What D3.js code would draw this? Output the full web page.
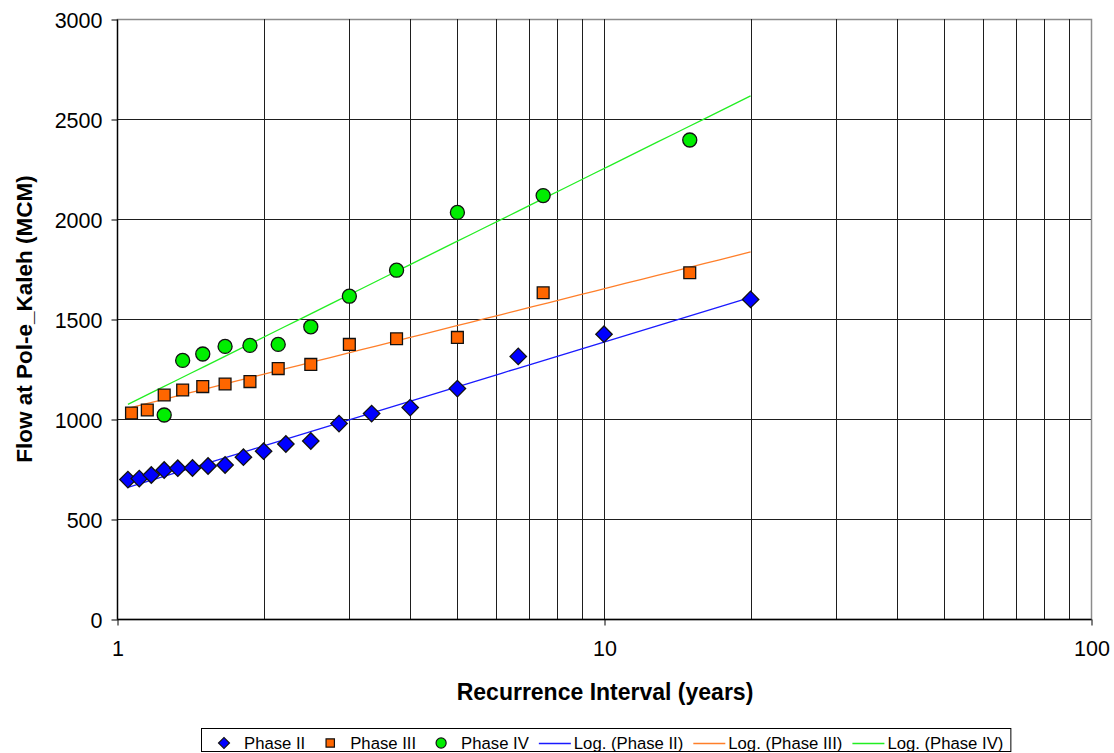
<!DOCTYPE html>
<html>
<head>
<meta charset="utf-8">
<script src="https://cdn.jsdelivr.net/npm/d3@7"></script>
<style>
  html, body { margin: 0; padding: 0; background: #fff; }
  svg { display: block; font-family: "Liberation Sans", Arial, sans-serif; }
</style>
</head>
<body>
<svg id="chart" width="1114" height="753"></svg>
<script>
// Recurrence intervals (years) and flows (MCM) for each phase
const phase2Years = [1.053, 1.111, 1.176, 1.25, 1.333, 1.429, 1.538, 1.667, 1.818, 2, 2.222, 2.5, 2.857, 3.333, 4, 5, 6.667, 10, 20];
const phase2Flow  = [697, 702, 720, 745, 754, 755, 765, 770, 809, 839, 875, 890, 977, 1027, 1057, 1152, 1313, 1424, 1598];

const phase3Years = [1.071, 1.154, 1.25, 1.364, 1.5, 1.667, 1.875, 2.143, 2.5, 3, 3.75, 5, 7.5, 15];
const phase3Flow  = [1030, 1045, 1120, 1145, 1162, 1175, 1187, 1252, 1273, 1373, 1401, 1408, 1631, 1731];

const phase4Years = [1.25, 1.364, 1.5, 1.667, 1.875, 2.143, 2.5, 3, 3.75, 5, 7.5, 15];
const phase4Flow  = [1020, 1293, 1325, 1363, 1368, 1373, 1461, 1614, 1744, 2033, 2117, 2395];

const seriesNames = ["Phase II", "Phase III", "Phase IV"];
const trendNames  = ["Log. (Phase II)", "Log. (Phase III)", "Log. (Phase IV)"];

const yTicks = [0, 500, 1000, 1500, 2000, 2500, 3000];
const xMajorTicks = [1, 10, 100];
const xMinorTicks = [2, 3, 4, 5, 6, 7, 8, 9, 20, 30, 40, 50, 60, 70, 80, 90];

const svg = d3.select("#chart");

const plot = { left: 117, top: 19, right: 1091, bottom: 619 };

const x = d3.scaleLog().domain([1, 100]).range([plot.left, plot.right]);
const y = d3.scaleLinear().domain([0, 3000]).range([plot.bottom, plot.top]);

const crisp = v => Math.round(v) + 0.5;

// Diamond = square turned 45 degrees
const styles = [
  { fill: "#0000ff", line: "#1a1aff", shape: d3.symbolSquare, rotate: 45 },
  { fill: "#ff6600", line: "#ff7f2a", shape: d3.symbolSquare, rotate: 0 },
  { fill: "#00ee00", line: "#22ee22", shape: d3.symbolCircle, rotate: 0 }
];

const series = [
  { years: phase2Years, flow: phase2Flow },
  { years: phase3Years, flow: phase3Flow },
  { years: phase4Years, flow: phase4Flow }
];

// Plot frame (grey) on top and right
svg.append("rect")
  .attr("x", crisp(plot.left)).attr("y", crisp(plot.top))
  .attr("width", Math.round(plot.right - plot.left)).attr("height", Math.round(plot.bottom - plot.top))
  .attr("fill", "none").attr("stroke", "#8c8c8c").attr("stroke-width", 1.5);

// Horizontal gridlines
svg.append("g").selectAll("line")
  .data(yTicks.filter(t => t > 0 && t < 3000))
  .join("line")
  .attr("x1", plot.left).attr("x2", plot.right)
  .attr("y1", d => crisp(y(d))).attr("y2", d => crisp(y(d)))
  .attr("stroke", "#1e1e1e").attr("stroke-width", 1);

// Vertical gridlines at each decade subdivision
svg.append("g").selectAll("line")
  .data(xMinorTicks.concat([10]))
  .join("line")
  .attr("x1", d => crisp(x(d))).attr("x2", d => crisp(x(d)))
  .attr("y1", plot.top).attr("y2", plot.bottom)
  .attr("stroke", "#1e1e1e").attr("stroke-width", 1);

// Y axis
const yAxis = d3.axisLeft(y).tickValues(yTicks).tickSize(6).tickPadding(9).tickFormat(d3.format("d"));
const gy = svg.append("g").attr("transform", `translate(${crisp(plot.left)},0.5)`).call(yAxis);
gy.select(".domain").attr("stroke", "#000").attr("stroke-width", 1.3).attr("d", `M0,${plot.top}V${plot.bottom}`);
gy.selectAll(".tick line").attr("stroke", "#000");
gy.selectAll(".tick text").attr("font-size", 21.5).attr("fill", "#000")
  .attr("font-family", "Liberation Sans, Arial, sans-serif").attr("dy", "0.35em");

// X axis
const xAxis = d3.axisBottom(x).tickValues(xMajorTicks).tickSize(6).tickPadding(15).tickFormat(d3.format("d"));
const gx = svg.append("g").attr("transform", `translate(0.5,${crisp(plot.bottom)})`).call(xAxis);
gx.select(".domain").attr("stroke", "#000").attr("stroke-width", 1.3).attr("d", `M${plot.left},0H${plot.right}`);
gx.selectAll(".tick line").attr("stroke", "#000");
gx.selectAll(".tick text").attr("font-size", 21.5).attr("fill", "#000")
  .attr("font-family", "Liberation Sans, Arial, sans-serif");

// Axis titles
svg.append("text")
  .attr("x", 605).attr("y", 700)
  .attr("text-anchor", "middle").attr("font-weight", "bold").attr("font-size", 23)
  .text("Recurrence Interval (years)");

svg.append("text")
  .attr("transform", `translate(32,${(plot.top + plot.bottom) / 2}) rotate(-90)`)
  .attr("text-anchor", "middle").attr("font-weight", "bold").attr("font-size", 22.5)
  .text("Flow at Pol-e_Kaleh (MCM)");

// Logarithmic trendlines y = a ln(x) + b, fitted by least squares
function logFit(xs, ys) {
  const lx = xs.map(Math.log);
  const mx = d3.mean(lx), my = d3.mean(ys);
  let sxy = 0, sxx = 0;
  lx.forEach((v, i) => { sxy += (v - mx) * (ys[i] - my); sxx += (v - mx) * (v - mx); });
  const a = sxy / sxx;
  return { a, b: my - a * mx };
}

const allYears = phase2Years.concat(phase3Years, phase4Years);
const xMin = d3.min(allYears), xMax = d3.max(allYears);
const trendLine = d3.line().x(d => x(d[0])).y(d => y(d[1]));

series.forEach((s, i) => {
  const f = logFit(s.years, s.flow);
  const pts = d3.range(0, 41).map(k => {
    const xv = Math.exp(Math.log(xMin) + (Math.log(xMax) - Math.log(xMin)) * k / 40);
    return [xv, f.a * Math.log(xv) + f.b];
  });
  svg.append("path").datum(pts)
    .attr("d", trendLine)
    .attr("fill", "none").attr("stroke", styles[i].line).attr("stroke-width", 1.3);
});

// Data markers
const markerSize = [135, 140, 155];
series.forEach((s, i) => {
  svg.append("g").selectAll("path")
    .data(s.years.map((yr, k) => [yr, s.flow[k]]))
    .join("path")
    .attr("transform", d => `translate(${x(d[0])},${y(d[1])}) rotate(${styles[i].rotate})`)
    .attr("d", d3.symbol().type(styles[i].shape).size(markerSize[i]))
    .attr("fill", styles[i].fill).attr("stroke", "#111").attr("stroke-width", 1.3);
});

// Legend
const legend = svg.append("g");
const legendTop = 728, legendMid = 743;
const legendBox = legend.append("rect")
  .attr("x", 201.5).attr("y", legendTop + 0.5).attr("height", 23)
  .attr("fill", "#fff").attr("stroke", "#000").attr("stroke-width", 1);

let cursor = 201;
const legendItems = seriesNames.map((n, i) => ({ name: n, kind: "marker", i }))
  .concat(trendNames.map((n, i) => ({ name: n, kind: "line", i })));
const legendMarkerSize = [60, 70, 80];

legendItems.forEach((item, idx) => {
  if (item.kind === "marker") {
    const cx = cursor + (idx === 0 ? 23 : 25);
    legend.append("path")
      .attr("transform", `translate(${cx},${legendMid}) rotate(${styles[item.i].rotate})`)
      .attr("d", d3.symbol().type(styles[item.i].shape).size(legendMarkerSize[item.i]))
      .attr("fill", styles[item.i].fill).attr("stroke", "#111").attr("stroke-width", 1.2);
    cursor = cx + 20;
  } else {
    const x0 = cursor + 10;
    legend.append("line")
      .attr("x1", x0).attr("x2", x0 + 32)
      .attr("y1", legendMid + 0.5).attr("y2", legendMid + 0.5)
      .attr("stroke", styles[item.i].line).attr("stroke-width", 1.3);
    cursor = x0 + 35;
  }
  const t = legend.append("text")
    .attr("x", cursor).attr("y", legendMid + 6)
    .attr("font-size", 16.7).attr("fill", "#000")
    .text(item.name);
  cursor += t.node().getComputedTextLength();
});
legendBox.attr("width", cursor + 7 - 201);
</script>
</body>
</html>
